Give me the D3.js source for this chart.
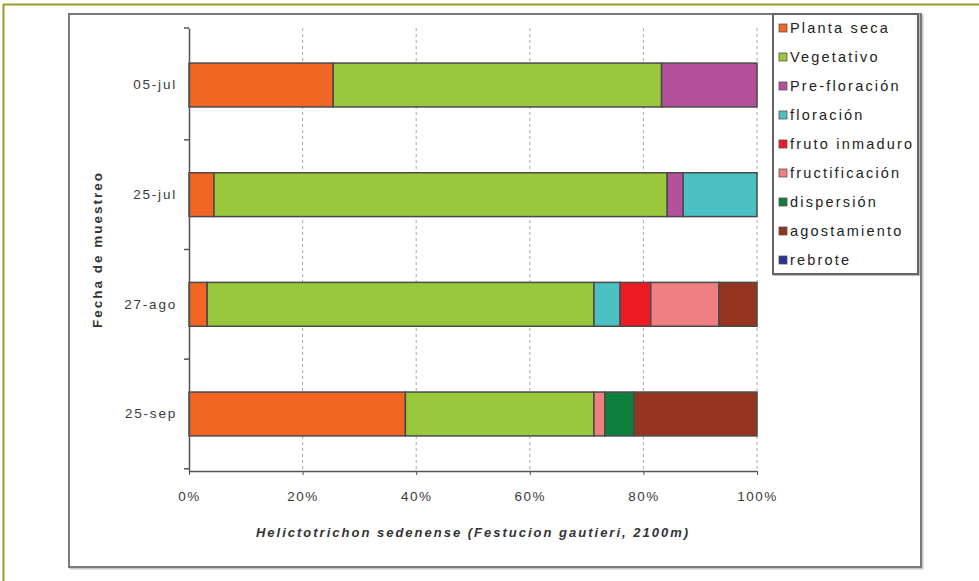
<!DOCTYPE html>
<html><head><meta charset="utf-8">
<script src="https://cdn.jsdelivr.net/npm/d3@7"></script>
<style>
html,body{margin:0;padding:0;background:#fff;}
text{font-family:"Liberation Sans",Arial,sans-serif;}
</style></head>
<body>
<svg id="c" width="979" height="581"></svg>
<script>
const categories = ["05-jul","25-jul","27-ago","25-sep"];
const seriesNames = ["Planta seca","Vegetativo","Pre-floración","floración","fruto inmaduro","fructificación","dispersión","agostamiento","rebrote"];
const seriesColors = ["#f26522","#99c83c","#b5519c","#4bc1c4","#ed1c24","#f07f82","#0f7f3d","#96351f","#2e3192"];
const plantaSeca     = [25.4, 4.4, 3.2, 38.1];
const vegetativo     = [57.8, 79.8, 68.1, 33.2];
const prefloracion   = [16.8, 2.8, 0, 0];
const floracion      = [0, 13.0, 4.6, 0];
const frutoInmaduro  = [0, 0, 5.4, 0];
const fructificacion = [0, 0, 12.0, 1.9];
const dispersion     = [0, 0, 0, 5.1];
const agostamiento   = [0, 0, 6.7, 21.7];
const rebrote        = [0, 0, 0, 0];
const xTicks = [0, 0.2, 0.4, 0.6, 0.8, 1];
const xTitle = "Helictotrichon sedenense (Festucion gautieri, 2100m)";
const yTitle = "Fecha de muestreo";

const seriesValues = [plantaSeca, vegetativo, prefloracion, floracion, frutoInmaduro, fructificacion, dispersion, agostamiento, rebrote];
const rows = categories.map((c, i) => {
  const r = {cat: c};
  seriesNames.forEach((s, j) => r[s] = seriesValues[j][i]);
  return r;
});

const svg = d3.select("#c");

// outer olive frame
svg.append("line").attr("x1",3.5).attr("x2",3.5).attr("y1",4).attr("y2",581).attr("stroke","#9a9a2a").attr("stroke-width",2);
svg.append("line").attr("x1",3).attr("x2",979).attr("y1",4.5).attr("y2",4.5).attr("stroke","#9a9a2a").attr("stroke-width",2);

// chart frame with shadow
svg.append("rect").attr("x",70.5).attr("y",15.5).attr("width",852).attr("height",553).attr("fill","none").attr("stroke","#c8c8c8").attr("stroke-width",2);
svg.append("rect").attr("x",69).attr("y",14).attr("width",852).attr("height",553).attr("fill","#fff").attr("stroke","#7a7a7a").attr("stroke-width",2);

const L = 189, R = 757, T = 28, B = 471;
const x = d3.scaleLinear().domain([0,1]).range([L,R]);
const y = d3.scaleBand().domain(categories).range([T,B]).paddingInner(0.6).paddingOuter(0.32);

// gridlines
svg.append("g").selectAll("line").data(xTicks.slice(1)).join("line")
  .attr("x1", d => x(d)).attr("x2", d => x(d)).attr("y1", T).attr("y2", B)
  .attr("stroke","#a8a8a8").attr("stroke-width",1).attr("stroke-dasharray","3,3");

// stacked bars
const stack = d3.stack().keys(seriesNames).offset(d3.stackOffsetExpand);
const layers = stack(rows);
const gBars = svg.append("g");
layers.forEach((layer, j) => {
  gBars.append("g").selectAll("rect").data(layer.filter(d => d[1] - d[0] > 0)).join("rect")
    .attr("x", d => x(d[0])).attr("width", d => x(d[1]) - x(d[0]))
    .attr("y", d => y(d.data.cat)).attr("height", y.bandwidth())
    .attr("fill", seriesColors[j]).attr("stroke","#4a4a4a").attr("stroke-width",1.5);
});

// x axis
const xAxis = svg.append("g").attr("transform",`translate(0,${B})`)
  .call(d3.axisBottom(x).tickValues(xTicks).tickFormat(d3.format(".0%")).tickSize(4).tickPadding(16).tickSizeOuter(0));
xAxis.select(".domain").attr("stroke","#555").attr("stroke-width",1.5);
xAxis.selectAll(".tick line").attr("stroke","#555");
xAxis.selectAll("text").attr("font-size",13.5).attr("fill","#3a3a3a").attr("letter-spacing","1.5px");

// y axis
const yAxis = svg.append("g").attr("transform",`translate(${L},0)`)
  .call(d3.axisLeft(y).tickSize(0).tickPadding(12).tickSizeOuter(0));
yAxis.select(".domain").attr("stroke","#555").attr("stroke-width",1.5);
yAxis.selectAll("text").attr("font-size",13.5).attr("fill","#3a3a3a").attr("letter-spacing","1.8px");
const bounds = [T].concat(categories.map(c => y(c) + y.bandwidth()/2 + y.step()/2));
svg.append("g").selectAll("line").data(bounds).join("line")
  .attr("x1", L-5).attr("x2", L).attr("y1", d => d).attr("y2", d => d)
  .attr("stroke","#555").attr("stroke-width",1.5);

// titles
svg.append("text").attr("x",(L+R)/2).attr("y",537).attr("text-anchor","middle")
  .attr("font-size",13).attr("font-weight","bold").attr("font-style","italic").attr("fill","#333")
  .attr("letter-spacing","2px").text(xTitle);
svg.append("text").attr("transform",`translate(102,${(T+B)/2}) rotate(-90)`).attr("text-anchor","middle")
  .attr("font-size",13.5).attr("font-weight","bold").attr("fill","#333")
  .attr("letter-spacing","2px").text(yTitle);

// legend
svg.append("rect").attr("x",774).attr("y",15).attr("width",145).attr("height",260).attr("fill","none").attr("stroke","#bbb").attr("stroke-width",2);
svg.append("rect").attr("x",773).attr("y",14).attr("width",145).attr("height",260).attr("fill","#fff").attr("stroke","#666").attr("stroke-width",2);
const lg = svg.append("g").selectAll("g").data(seriesNames).join("g")
  .attr("transform", (d,i) => `translate(779,${28 + i*29})`);
lg.append("rect").attr("x",0).attr("y",-4).attr("width",8).attr("height",8)
  .attr("fill", (d,i) => seriesColors[i]).attr("stroke","#555").attr("stroke-width",0.8);
lg.append("text").attr("x",11).attr("y",5).attr("font-size",14.5).attr("fill","#222")
  .attr("letter-spacing","2.2px").text(d => d);
</script>
</body></html>
